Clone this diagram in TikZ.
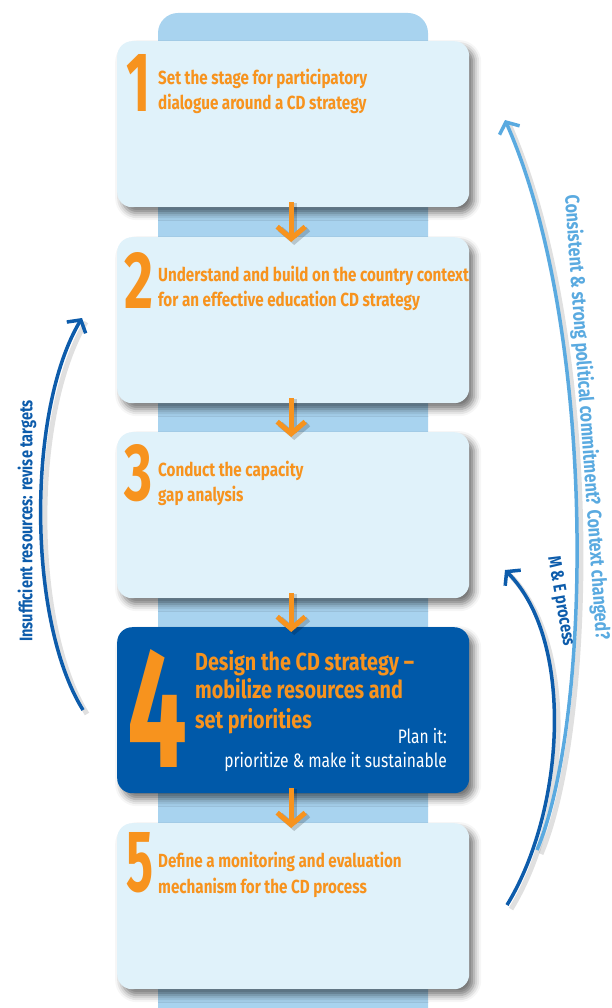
\documentclass[tikz,border=0pt]{standalone}
\usepackage{fontspec}
\setmainfont{Fira Sans}[FakeStretch=0.8]
\usetikzlibrary{arrows.meta,shadows.blur}
\definecolor{colbg}{HTML}{A8D3EF}
\definecolor{boxfill}{HTML}{E0F2FA}
\definecolor{darkbox}{HTML}{0059A9}
\definecolor{orng}{HTML}{F7931E}
\definecolor{dblue}{HTML}{0D5CAB}
\definecolor{lblue}{HTML}{5AAAE0}
\begin{document}
\begin{tikzpicture}[x=1pt,y=-1pt,
  stepbox/.style={fill=boxfill, rounded corners=15pt, minimum width=352pt, minimum height=166pt,
    anchor=north west, inner sep=0pt,
    blur shadow={shadow xshift=5pt, shadow yshift=-6pt, shadow blur radius=7pt, shadow opacity=55}},
  darkstep/.style={stepbox, fill=darkbox},
  bignum/.style={anchor=south west, inner sep=0pt, text=orng},
  steptext/.style={anchor=base west, inner sep=0pt, text=orng, font=\fontsize{19}{22}\selectfont\bfseries},
  bigtext/.style={anchor=base west, inner sep=0pt, text=orng, font=\fontsize{24.7}{28}\selectfont\bfseries},
  whitetext/.style={anchor=base east, inner sep=0pt, text=white, font=\fontsize{19.5}{22}\selectfont},
  oarrow/.style={draw=orng, line width=5pt, -{Straight Barb[length=12pt, width=28pt, line width=5pt]}},
  oshadow/.style={draw=black, opacity=0.18, line width=6pt, -{Straight Barb[length=12pt, width=28pt, line width=6pt]}},
  darkcurve/.style={draw=dblue, line width=3.5pt, -{Straight Barb[length=9pt, width=22pt, line width=3.5pt]}},
  lightcurve/.style={draw=lblue, line width=3.5pt, -{Straight Barb[length=9pt, width=22pt, line width=3.5pt]}},
  curveshadow/.style={draw=black, opacity=0.12, line width=5pt},
  sidetext/.style={inner sep=0pt, font=\fontsize{18.2}{20}\selectfont\bfseries}
]
\useasboundingbox (0,0) rectangle (611,1008);
% background column
\fill[colbg, rounded corners=20pt] (158,13) rectangle (428,1040);

% boxes
\node[stepbox] (b1) at (117,41) {};
\node[stepbox] (b2) at (117,237) {};
\node[stepbox] (b3) at (117,432) {};
\node[darkstep] (b4) at (117,627) {};
\node[stepbox] (b5) at (117,823) {};

% step 1
\node[bignum] (n1) at (126,112) {\resizebox{24pt}{57pt}{\bfseries 1}};
\node[steptext] (t1a) at (158,85) {Set the stage for participatory};
\node[steptext] (t1b) at (158,110) {dialogue around a CD strategy};
% step 2
\node[bignum] (n2) at (124,309) {\resizebox{29pt}{56pt}{\bfseries 2}};
\node[steptext] (t2a) at (158,281) {Understand and build on the country context};
\node[steptext] (t2b) at (158,306) {for an effective education CD strategy};
% step 3
\node[bignum] (n3) at (124,502) {\resizebox{28pt}{56pt}{\bfseries 3}};
\node[steptext] (t3a) at (158,476) {Conduct the capacity};
\node[steptext] (t3b) at (158,501) {gap analysis};
% step 4
\node[bignum] (n4) at (127,768) {\resizebox{60pt}{118pt}{\bfseries 4}};
\node[bigtext] (t4a) at (195,670) {Design the CD strategy –};
\node[bigtext] (t4b) at (195,698) {mobilize resources and};
\node[bigtext] (t4c) at (195,728) {set priorities};
\node[whitetext] (t4d) at (447,743) {Plan it:};
\node[whitetext] (t4e) at (447,767) {prioritize \& make it sustainable};
% step 5
\node[bignum] (n5) at (126,893) {\resizebox{27pt}{59pt}{\bfseries 5}};
\node[steptext] (t5a) at (158,867) {Define a monitoring and evaluation};
\node[steptext] (t5b) at (158,893) {mechanism for the CD process};

% orange arrows
\foreach \a/\b in {b1/b2,b2/b3,b3/b4,b4/b5}{
  \draw[oshadow] ([xshift=1pt,yshift=4pt]\a.south) -- ([xshift=1pt,yshift=-8pt]\b.north);
  \draw[oarrow] ([xshift=-2pt,yshift=5pt]\a.south) -- ([xshift=-2pt,yshift=-5pt]\b.north);
}

% curve coordinates
\coordinate (l0) at (83,710);
\coordinate (l1) at (82,318);
\coordinate (r0) at (537,850);
\coordinate (r1) at (505,120);
\coordinate (m0) at (507,905);
\coordinate (m1) at (505,570);

% curve shadows
\draw[curveshadow] ([shift={(4pt,-4pt)}]l0) .. controls (31,624) and (31,414) .. ([shift={(4pt,-4pt)}]l1);
\draw[curveshadow] ([shift={(4pt,-4pt)}]r0) .. controls (596,724) and (602,334) .. ([shift={(4pt,-4pt)}]r1);
\draw[curveshadow] ([shift={(4pt,-4pt)}]m0) .. controls (569,814) and (579,644) .. ([shift={(4pt,-4pt)}]m1);

% curves
\draw[darkcurve] (l0) .. controls (27,620) and (27,410) .. (l1);
\draw[lightcurve] (r0) .. controls (592,720) and (598,330) .. (r1);
\draw[darkcurve] (m0) .. controls (565,810) and (575,640) .. (m1);

% side labels
\node[sidetext, text=dblue, rotate=90] (lt) at (27,521) {Insufficient resources: revise targets};
\node[sidetext, text=lblue, rotate=-86, anchor=base west, font=\fontsize{20}{22}\selectfont\bfseries] (rt) at (565,195) {Consistent \& strong political commitment? Context changed?};
\node[sidetext, text=dblue, rotate=-80, anchor=base west, font=\fontsize{18}{20}\selectfont\bfseries] (me) at (548,557) {M \& E process};
\end{tikzpicture}
\end{document}
